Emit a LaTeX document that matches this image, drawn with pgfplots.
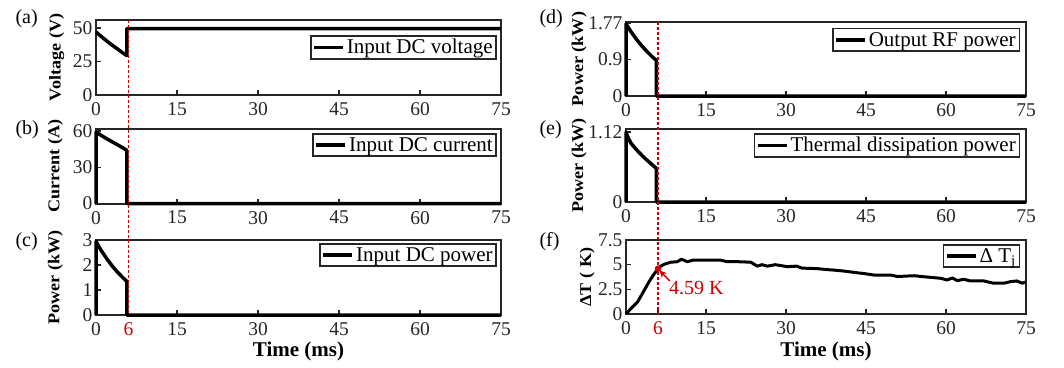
\documentclass[border=0pt]{standalone}
\usepackage{fontspec}
\setmainfont{Liberation Serif}
\usepackage{pgfplots}
\pgfplotsset{compat=1.18}
\usetikzlibrary{arrows.meta}
\definecolor{mred}{RGB}{204,0,0}
\definecolor{axgray}{RGB}{38,38,38}
\newcommand{\yl}[1]{\scalebox{1.1}[1]{#1}}
\pgfplotsset{
  panel/.style={
    scale only axis, xmin=0, xmax=75, clip=false,
    tick align=inside, tick pos=left,
    axis line style={line width=2pt, axgray},
    major tick style={line width=1.3pt, axgray},
    major tick length=5pt,
    tick label style={font=\fontsize{19.5}{21}\selectfont, text=axgray},
    xticklabel style={yshift=-4pt},
    xtick={0,15,30,45,60,75},
    xticklabels={0,15,30,45,60,75},
    every axis y label/.style={rotate=90, anchor=center, font=\bfseries\fontsize{16.5}{18}\selectfont},
    every axis x label/.style={anchor=center, font=\bfseries\fontsize{21}{23}\selectfont},
    legend cell align=left,
    legend style={anchor=north east, draw=axgray, line width=1.5pt, font=\fontsize{21}{23}\selectfont, inner sep=1.5pt},
    legend image code/.code={\draw[line width=3.5pt, black] (0pt,0pt) -- (29pt,0pt);},
  },
  dat/.style={black, no markers, line width=3.5pt, line join=round},
}
\begin{document}
\begin{tikzpicture}
\useasboundingbox (0,0) rectangle (1064pt,-367pt);
% (a)
\begin{axis}[panel, at={(96pt,-20pt)}, anchor=north west, width=405pt, height=75pt,
  ymin=0, ymax=56, ytick={0,25,50}, yticklabels={0,25,50},
  ylabel={\yl{Voltage (V)}}, ylabel style={at={(axis description cs:-0.097,0.5)}},
  legend style={at={(0.99,0.8)}}]
\addplot[dat] coordinates {(0,47) (1,43.6) (2,40.3) (3,37.2) (4,34.3) (5,31.3) (5.7,29.5) (5.7,49.5) (75,49.5)};
\addlegendentry{Input DC voltage}
\coordinate (LT) at (axis cs:6,56);
\end{axis}
% (b)
\begin{axis}[panel, at={(96pt,-128.5pt)}, anchor=north west, width=405pt, height=75pt,
  ymin=0, ymax=62, ytick={0,30,60}, yticklabels={0,30,60},
  ylabel={\yl{Current (A)}}, ylabel style={at={(axis description cs:-0.1,0.5)}},
  legend style={at={(0.99,0.94)}}]
\addplot[dat] coordinates {(0,0) (0,59) (1,56.2) (2,53.5) (3,51) (4,48.5) (5,45.9) (5.7,44) (5.7,0) (75,0)};
\addlegendentry{Input DC current}
\end{axis}
% (c)
\begin{axis}[panel, at={(96pt,-240pt)}, anchor=north west, width=405pt, height=75pt,
  ymin=0, ymax=3, ytick={0,1,2,3}, yticklabels={0,1,2,3},
  xtick={0,6,15,30,45,60,75}, xticklabels={0,\textcolor{mred}{6},15,30,45,60,75},
  ylabel={\yl{Power (kW)}}, ylabel style={at={(axis description cs:-0.1,0.5)}},
  xlabel={Time (ms)}, xlabel style={at={(axis description cs:0.5,-0.49)}},
  legend style={at={(0.99,0.96)}}]
\addplot[dat] coordinates {(0,0) (0,2.95) (0.5,2.75) (1,2.57) (2,2.25) (3,1.96) (4,1.71) (5,1.49) (5.7,1.35) (5.7,0) (75,0)};
\addlegendentry{Input DC power}
\coordinate (LB) at (axis cs:6,0);
\end{axis}
% (d)
\begin{axis}[panel, at={(626pt,-22pt)}, anchor=north west, width=400pt, height=74pt,
  ymin=0, ymax=1.81, ytick={0,0.9,1.77}, yticklabels={0,0.9,1.77},
  ylabel={\yl{Power (kW)}}, ylabel style={at={(axis description cs:-0.117,0.5)}},
  legend style={at={(0.985,0.92)}}]
\addplot[dat] coordinates {(0,0) (0,1.77) (0.5,1.66) (1,1.56) (2,1.38) (3,1.22) (4,1.08) (5,0.95) (5.7,0.87) (5.7,0) (75,0)};
\addlegendentry{Output RF power}
\coordinate (RT) at (axis cs:6,1.81);
\end{axis}
% (e)
\begin{axis}[panel, at={(626pt,-129pt)}, anchor=north west, width=400pt, height=73pt,
  ymin=0, ymax=1.17, ytick={0,1.12}, yticklabels={0,1.12},
  ylabel={\yl{Power (kW)}}, ylabel style={at={(axis description cs:-0.117,0.5)}},
  legend style={at={(0.985,0.945)}}]
\addplot[dat] coordinates {(0,0) (0,1.12) (0.5,1.01) (1,0.935) (2,0.835) (3,0.745) (4,0.665) (5,0.59) (5.7,0.54) (5.7,0) (75,0)};
\addlegendentry{Thermal dissipation power}
\end{axis}
% (f)
\begin{axis}[panel, at={(626pt,-240pt)}, anchor=north west, width=400pt, height=74pt,
  ymin=0, ymax=7.5, ytick={0,2.5,5,7.5}, yticklabels={0,2.5,5,7.5},
  xtick={0,6,15,30,45,60,75}, xticklabels={0,\textcolor{mred}{6},15,30,45,60,75},
  ylabel={\yl{ΔT ( K)}}, ylabel style={at={(axis description cs:-0.097,0.5)}},
  xlabel={Time (ms)}, xlabel style={at={(axis description cs:0.5,-0.5)}},
  legend style={at={(0.985,0.946)}}]
\addplot[dat, line width=3pt] coordinates {(0,0) (1,0.6) (2.2,1.25) (3.2,2.2) (4.35,3.3) (5.2,4.0) (6,4.59) (6.5,4.85) (7.2,5.05) (8.4,5.25) (9.6,5.3) (10.4,5.55) (11.5,5.3) (12.5,5.45) (15,5.45) (17.8,5.45) (19,5.3) (21,5.3) (23.4,5.25) (24.6,4.85) (25.5,5.0) (26.5,4.85) (28,5.0) (30.2,4.8) (32,4.85) (33,4.65) (35.8,4.6) (37.7,4.5) (39,4.45) (40.9,4.35) (43,4.2) (44.6,4.1) (46.5,3.95) (49.6,3.95) (50.9,3.8) (54,3.88) (55.8,3.78) (59,3.62) (60.2,3.45) (61.2,3.65) (62.1,3.38) (63.3,3.52) (64.6,3.35) (67.1,3.35) (68.9,3.12) (70.8,3.12) (72.1,3.28) (73.3,3.35) (74.3,3.12) (75,3.25)};
\addlegendentry{Δ T\textsubscript{j}}
\addplot[only marks, mark=*, mark size=3pt, mred, line width=0.5pt, forget plot] coordinates {(6,4.59)};
\draw[mred, line width=1.5pt, -{Stealth[length=7pt,width=7pt]}] (axis cs:8.2,3.35) -- (axis cs:6.3,4.4);
\node[mred, font=\fontsize{20}{22}\selectfont] at (axis cs:13.2,2.6) {4.59 K};
\coordinate (RB) at (axis cs:6,0);
\end{axis}
\draw[mred, line width=1.5pt, dash pattern=on 3pt off 2pt] (LT) -- (LB);
\draw[mred, line width=1.5pt, dash pattern=on 3pt off 2pt] (RT) -- (RB);
% panel labels
\node[anchor=west, font=\fontsize{20}{22}\selectfont] at (12pt,-19pt) {(a)};
\node[anchor=west, font=\fontsize{20}{22}\selectfont] at (12pt,-130pt) {(b)};
\node[anchor=west, font=\fontsize{20}{22}\selectfont] at (12pt,-242pt) {(c)};
\node[anchor=west, font=\fontsize{20}{22}\selectfont] at (536pt,-19pt) {(d)};
\node[anchor=west, font=\fontsize{20}{22}\selectfont] at (536pt,-130pt) {(e)};
\node[anchor=west, font=\fontsize{20}{22}\selectfont] at (536pt,-242pt) {(f)};
\end{tikzpicture}
\end{document}
